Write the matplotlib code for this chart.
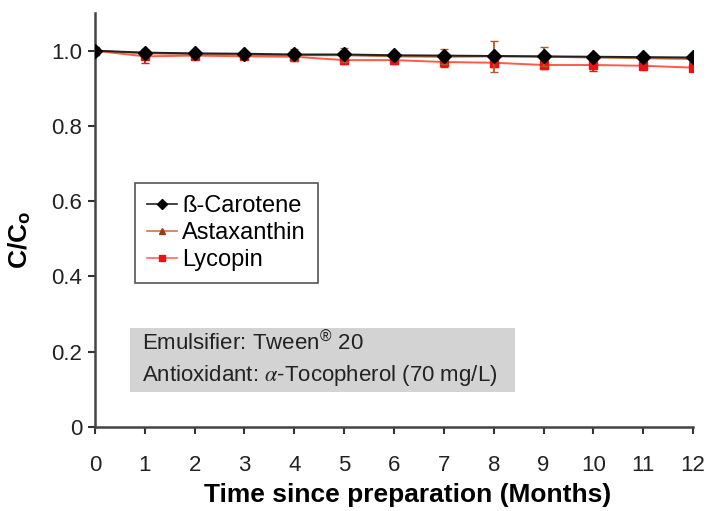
import matplotlib
matplotlib.use("Agg")
import matplotlib.pyplot as plt
from matplotlib.patches import Rectangle
from matplotlib.lines import Line2D

plt.rcParams['font.family'] = ['Liberation Sans', 'DejaVu Sans']
plt.rcParams['mathtext.fontset'] = 'stix'

months = [0, 1, 2, 3, 4, 5, 6, 7, 8, 9, 10, 11, 12]

carotene = [1.000, 0.995, 0.993, 0.992, 0.990, 0.990, 0.988, 0.987, 0.986, 0.985, 0.984, 0.983, 0.982]
carotene_err = [0.003, 0.006, 0.005, 0.005, 0.006, 0.006, 0.006, 0.005, 0.006, 0.006, 0.005, 0.004, 0.004]

astaxanthin = [1.000, 0.993, 0.991, 0.989, 0.988, 0.988, 0.985, 0.984, 0.985, 0.984, 0.982, 0.980, 0.978]
astaxanthin_err = [0.003, 0.008, 0.006, 0.008, 0.016, 0.018, 0.010, 0.020, 0.042, 0.025, 0.010, 0.006, 0.008]

lycopin = [1.000, 0.985, 0.987, 0.985, 0.984, 0.975, 0.975, 0.970, 0.968, 0.962, 0.962, 0.960, 0.955]
lycopin_err = [0.003, 0.018, 0.008, 0.008, 0.010, 0.010, 0.010, 0.012, 0.010, 0.010, 0.016, 0.008, 0.008]

xticks = list(range(0, 13))
yticks = [0, 0.2, 0.4, 0.6, 0.8, 1.0]
ytick_labels = ['0', '0.2', '0.4', '0.6', '0.8', '1.0']

fig = plt.figure(figsize=(7.08, 5.11), dpi=100)
ax = fig.add_axes([0.134, 0.1644, 0.845, 0.81])

ax.errorbar(months, lycopin, yerr=lycopin_err, color='#ff5a4a', ecolor='#ee1111',
            marker='s', markersize=6, markerfacecolor='#ee1111', markeredgecolor='#ee1111',
            lw=1.4, capsize=3, elinewidth=1.3, zorder=2)
ax.errorbar(months, astaxanthin, yerr=astaxanthin_err, color='#b8693a', ecolor='#b05a2a',
            marker='^', markersize=6, markerfacecolor='#9a3b12', markeredgecolor='#9a3b12',
            lw=1.4, capsize=3, elinewidth=1.3, zorder=3)
ax.errorbar(months, carotene, yerr=carotene_err, color='#222222', ecolor='#222222',
            marker='D', markersize=7, markerfacecolor='black', markeredgecolor='black',
            lw=1.4, capsize=3, elinewidth=1.2, zorder=4)

ax.set_xlim(0, 12)
ax.set_ylim(0, 1.1)
ax.set_xticks(xticks)
ax.set_xticklabels([str(t) for t in xticks])
ax.set_yticks(yticks)
ax.set_yticklabels(ytick_labels)
ax.tick_params(axis='both', labelsize=16, colors='#333333', length=5, width=1.5, direction='out')
ax.tick_params(axis='x', pad=15)
ax.tick_params(axis='y', pad=4)
for lbl in ax.get_xticklabels() + ax.get_yticklabels():
    lbl.set_color('#222222')

for side in ['top', 'right']:
    ax.spines[side].set_visible(False)
for side in ['left', 'bottom']:
    ax.spines[side].set_color('#444444')
    ax.spines[side].set_linewidth(1.8)

ax.set_xlabel('Time since preparation (Months)', fontsize=19, fontweight='bold')
ax.set_ylabel('C/C$_\\mathregular{o}$', fontsize=19, fontweight='bold')
ax.xaxis.set_label_coords(0.523, -0.136)
ax.yaxis.set_label_coords(-0.104, 0.452)

legend_handles = [
    Line2D([], [], color='#222222', lw=1.2, marker='D', markersize=5,
           markerfacecolor='black', markeredgecolor='black'),
    Line2D([], [], color='#c8784a', lw=1.2, marker='^', markersize=5,
           markerfacecolor='#9a3b12', markeredgecolor='#9a3b12'),
    Line2D([], [], color='#ff6a5a', lw=1.2, marker='s', markersize=5,
           markerfacecolor='#ee1111', markeredgecolor='#ee1111'),
]
legend_labels = ['ß-Carotene', 'Astaxanthin', 'Lycopin']
leg = ax.legend(legend_handles, legend_labels,
                loc='upper left', bbox_to_anchor=(0.067, 0.589), fontsize=17,
                frameon=True, fancybox=False, edgecolor='#555555', framealpha=1,
                handlelength=1.3, handletextpad=0.2, borderpad=0.5, labelspacing=0.22,
                borderaxespad=0)
leg.get_frame().set_linewidth(1.2)

box = Rectangle((0.058, 0.085), 0.645, 0.155, transform=ax.transAxes,
                facecolor='#d3d3d3', edgecolor='none', zorder=1)
ax.add_patch(box)
ax.text(0.078, 0.20, 'Emulsifier: Tween$^{\\mathregular{®}}$ 20', transform=ax.transAxes,
        fontsize=16, va='center', ha='left', color='#222222', zorder=2)
ax.text(0.078, 0.125, 'Antioxidant: $\\alpha$-Tocopherol (70 mg/L)', transform=ax.transAxes,
        fontsize=16, va='center', ha='left', color='#222222', zorder=2)

fig.savefig('out.png', dpi=100)
